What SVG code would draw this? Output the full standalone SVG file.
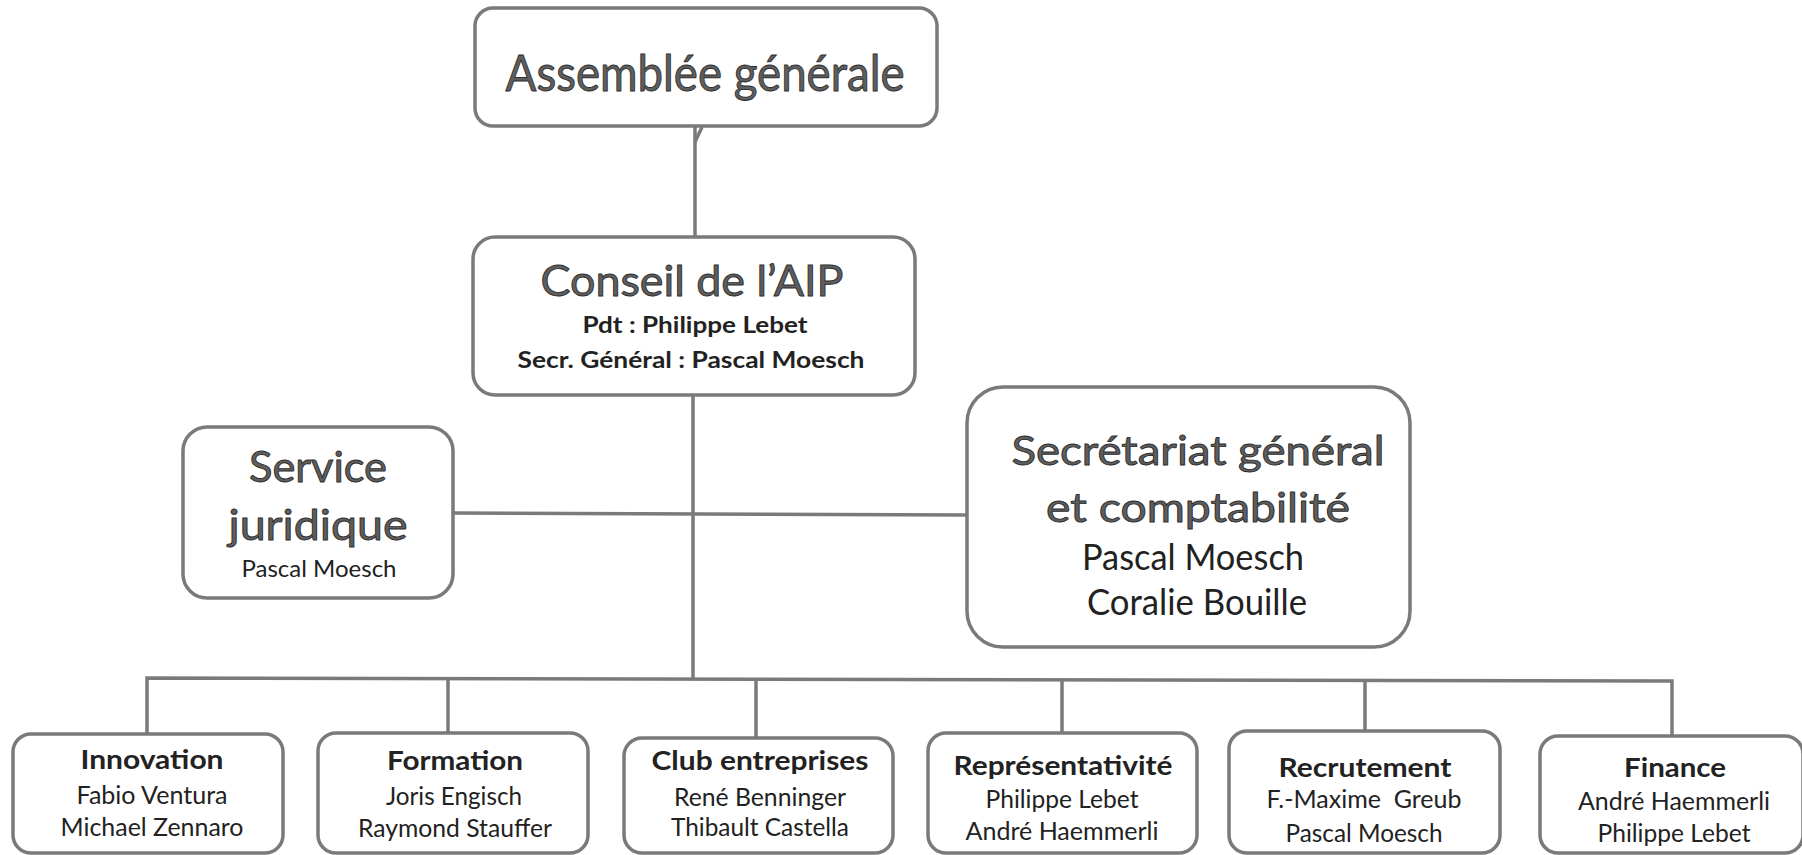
<svg xmlns="http://www.w3.org/2000/svg" width="1802" height="855" viewBox="0 0 1802 855">
<style>
.box{fill:#fff;stroke:#7a7a7a;stroke-width:3.5}
.con{fill:none;stroke:#7a7a7a;stroke-width:3.5}
.big{font-family:Lato,"Open Sans","Liberation Sans",sans-serif;fill:#5e5e5e;stroke:#2e2e2e;stroke-width:0.9;text-anchor:middle}
.sub{font-family:Lato,"Open Sans","Liberation Sans",sans-serif;fill:#222;text-anchor:middle;font-weight:bold}
.name{font-family:Lato,"Open Sans","Liberation Sans",sans-serif;fill:#222;text-anchor:middle}
.ttl{font-family:Lato,"Open Sans","Liberation Sans",sans-serif;fill:#222;text-anchor:middle;font-weight:bold}
</style>
<rect width="1802" height="855" fill="#fff"/>
<g id="connectors">
<line class="con" x1="695" y1="126" x2="695" y2="237"/>
<line class="con" x1="695" y1="142" x2="702" y2="127" stroke-width="2"/>
<line class="con" x1="693" y1="395" x2="693" y2="679"/>
<line class="con" x1="453" y1="513" x2="967" y2="515"/>
<polyline class="con" points="147,734 147,678 1672,681 1672,736"/>
<line class="con" x1="448" y1="679" x2="448" y2="733"/>
<line class="con" x1="756" y1="679" x2="756" y2="738"/>
<line class="con" x1="1062" y1="680" x2="1062" y2="733"/>
<line class="con" x1="1365" y1="680" x2="1365" y2="731"/>
</g>
<g id="assemblee">
<rect class="box" x="475" y="8" width="462" height="118" rx="18"/>
<text class="big" x="705" y="91" font-size="50" textLength="399" lengthAdjust="spacingAndGlyphs">Assemblée générale</text>
</g>
<g id="conseil">
<rect class="box" x="473" y="237" width="442" height="158" rx="22"/>
<text class="big" x="692" y="296" font-size="43" textLength="303" lengthAdjust="spacingAndGlyphs">Conseil de l’AIP</text>
<text class="sub" x="695" y="333" font-size="22" textLength="225" lengthAdjust="spacingAndGlyphs">Pdt : Philippe Lebet</text>
<text class="sub" x="691" y="368" font-size="22" textLength="347" lengthAdjust="spacingAndGlyphs">Secr. Général : Pascal Moesch</text>
</g>
<g id="juridique">
<rect class="box" x="183" y="427" width="270" height="171" rx="24"/>
<text class="big" x="318" y="482" font-size="42" textLength="138" lengthAdjust="spacingAndGlyphs">Service</text>
<text class="big" x="318" y="540" font-size="42" textLength="179" lengthAdjust="spacingAndGlyphs">juridique</text>
<text class="name" x="319" y="577" font-size="24" textLength="155" lengthAdjust="spacingAndGlyphs">Pascal Moesch</text>
</g>
<g id="secretariat">
<rect class="box" x="967" y="387" width="443" height="260" rx="36"/>
<text class="big" x="1198" y="465" font-size="40" textLength="373" lengthAdjust="spacingAndGlyphs">Secrétariat général</text>
<text class="big" x="1198" y="522" font-size="40" textLength="304" lengthAdjust="spacingAndGlyphs">et comptabilité</text>
<text class="name" x="1193" y="570" font-size="36" textLength="222" lengthAdjust="spacingAndGlyphs">Pascal Moesch</text>
<text class="name" x="1197" y="615" font-size="36" textLength="220" lengthAdjust="spacingAndGlyphs">Coralie Bouille</text>
</g>
<g id="innovation">
<rect class="box" x="13" y="734" width="270" height="119" rx="18"/>
<text class="ttl" x="152" y="769" font-size="27" textLength="143" lengthAdjust="spacingAndGlyphs">Innovation</text>
<text class="name" x="152" y="804" font-size="25" textLength="151" lengthAdjust="spacingAndGlyphs">Fabio Ventura</text>
<text class="name" x="152" y="836" font-size="25" textLength="183" lengthAdjust="spacingAndGlyphs">Michael Zennaro</text>
</g>
<g id="formation">
<rect class="box" x="318" y="733" width="270" height="120" rx="18"/>
<text class="ttl" x="455" y="770" font-size="27" textLength="136" lengthAdjust="spacingAndGlyphs">Formation</text>
<text class="name" x="454" y="805" font-size="25" textLength="136" lengthAdjust="spacingAndGlyphs">Joris Engisch</text>
<text class="name" x="455" y="837" font-size="25" textLength="194" lengthAdjust="spacingAndGlyphs">Raymond Stauffer</text>
</g>
<g id="club">
<rect class="box" x="624" y="738" width="269" height="115" rx="18"/>
<text class="ttl" x="760" y="770" font-size="27" textLength="217" lengthAdjust="spacingAndGlyphs">Club entreprises</text>
<text class="name" x="760" y="806" font-size="25" textLength="172" lengthAdjust="spacingAndGlyphs">René Benninger</text>
<text class="name" x="760" y="836" font-size="25" textLength="178" lengthAdjust="spacingAndGlyphs">Thibault Castella</text>
</g>
<g id="representativite">
<rect class="box" x="928" y="733" width="269" height="120" rx="18"/>
<text class="ttl" x="1063" y="775" font-size="27" textLength="219" lengthAdjust="spacingAndGlyphs">Représentativité</text>
<text class="name" x="1062" y="808" font-size="25" textLength="153" lengthAdjust="spacingAndGlyphs">Philippe Lebet</text>
<text class="name" x="1062" y="840" font-size="25" textLength="193" lengthAdjust="spacingAndGlyphs">André Haemmerli</text>
</g>
<g id="recrutement">
<rect class="box" x="1229" y="731" width="271" height="122" rx="18"/>
<text class="ttl" x="1365" y="777" font-size="27" textLength="173" lengthAdjust="spacingAndGlyphs">Recrutement</text>
<text class="name" x="1364" y="808" font-size="25" textLength="195" lengthAdjust="spacingAndGlyphs" xml:space="preserve">F.-Maxime  Greub</text>
<text class="name" x="1364" y="842" font-size="25" textLength="157" lengthAdjust="spacingAndGlyphs">Pascal Moesch</text>
</g>
<g id="finance">
<rect class="box" x="1540" y="736" width="263" height="117" rx="18"/>
<text class="ttl" x="1675" y="777" font-size="27" textLength="102" lengthAdjust="spacingAndGlyphs">Finance</text>
<text class="name" x="1674" y="810" font-size="25" textLength="192" lengthAdjust="spacingAndGlyphs">André Haemmerli</text>
<text class="name" x="1674" y="842" font-size="25" textLength="153" lengthAdjust="spacingAndGlyphs">Philippe Lebet</text>
</g>
</svg>
